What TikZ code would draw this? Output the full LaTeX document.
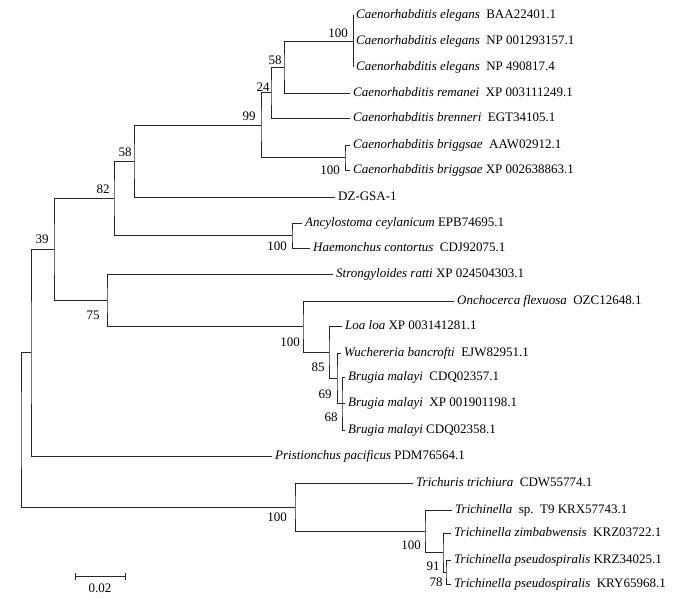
\documentclass[tikz,border=0pt]{standalone}
\usepackage{fontspec}
\setmainfont{Liberation Serif}
\usepackage{tikz}
\tikzstyle{leaf} = [anchor=west, inner sep=3pt, text height=9pt, text depth=2.5pt, font=\fontsize{13}{15}\selectfont]
\tikzstyle{boot} = [inner sep=0pt, font=\fontsize{13}{15}\selectfont]
\tikzstyle{branch} = [line width=0.75pt, black!85]

\begin{document}
\begin{tikzpicture}[x=1pt, y=-1pt]
\useasboundingbox (0,0) rectangle (688,602);
\node (ce1) [leaf] at (353,15) {\textit{Caenorhabditis elegans}\ \ BAA22401.1};
\node (ce2) [leaf] at (353,41) {\textit{Caenorhabditis elegans}\ \ NP 001293157.1};
\node (ce3) [leaf] at (353,67) {\textit{Caenorhabditis elegans}\ \ NP 490817.4};
\node (crem) [leaf] at (350,93) {\textit{Caenorhabditis remanei}\ \ XP 003111249.1};
\node (cbren) [leaf] at (350,118) {\textit{Caenorhabditis brenneri}\ \ EGT34105.1};
\node (cbr1) [leaf] at (350,145) {\textit{Caenorhabditis briggsae}\ \ AAW02912.1};
\node (cbr2) [leaf] at (350,170) {\textit{Caenorhabditis briggsae} XP 002638863.1};
\node (dz) [leaf] at (335,197) {DZ-GSA-1};
\node (anc) [leaf] at (302,223) {\textit{Ancylostoma ceylanicum} EPB74695.1};
\node (haem) [leaf] at (310,248) {\textit{Haemonchus contortus}\ \ CDJ92075.1};
\node (stro) [leaf] at (333,274) {\textit{Strongyloides ratti} XP 024504303.1};
\node (oncho) [leaf] at (454,301) {\textit{Onchocerca flexuosa}\ \ OZC12648.1};
\node (loa) [leaf] at (342,326) {\textit{Loa loa} XP 003141281.1};
\node (wuch) [leaf] at (341,353) {\textit{Wuchereria bancrofti}\ \ EJW82951.1};
\node (bma1) [leaf] at (345,377) {\textit{Brugia malayi}\ \ CDQ02357.1};
\node (bma2) [leaf] at (345,403) {\textit{Brugia malayi}\ \ XP 001901198.1};
\node (bma3) [leaf] at (345,430) {\textit{Brugia malayi} CDQ02358.1};
\node (prist) [leaf] at (272,456) {\textit{Pristionchus pacificus} PDM76564.1};
\node (trich) [leaf] at (413,483) {\textit{Trichuris trichiura}\ \ CDW55774.1};
\node (tsp) [leaf] at (452,510) {\textit{Trichinella}\ \ sp.\ \ T9 KRX57743.1};
\node (tzim) [leaf] at (451,533) {\textit{Trichinella zimbabwensis}\ \ KRZ03722.1};
\node (tps1) [leaf] at (451,560) {\textit{Trichinella pseudospiralis} KRZ34025.1};
\node (tps2) [leaf] at (451,584) {\textit{Trichinella pseudospiralis}\ \ KRY65968.1};

\coordinate (n58a) at (284,67);
\coordinate (n24) at (271,92.5);
\coordinate (nbr) at (345,157.5);
\coordinate (n99) at (261,125);
\coordinate (n58b) at (134,161);
\coordinate (nanc) at (292,235.5);
\coordinate (n82) at (114,198);
\coordinate (n68) at (342,403);
\coordinate (n69) at (337,378);
\coordinate (n85) at (329,352);
\coordinate (nfil) at (303,326.5);
\coordinate (n75) at (107,300);
\coordinate (n39) at (54,249);
\coordinate (npr) at (31,352.5);
\coordinate (n78) at (446,572);
\coordinate (n91) at (443,552.5);
\coordinate (ntn) at (425,531);
\coordinate (ntri) at (295,507);
\coordinate (root) at (21,430);

\draw [branch] (ce1.west) -- (ce3.west);
\draw [branch] (ce2.west) -| (n58a) |- (crem.west);
\draw [branch] (n58a) -| (n24) |- (cbren.west);
\draw [branch] (cbr1.west) -| (nbr) |- (cbr2.west);
\draw [branch] (n24) -| (n99) |- (nbr);
\draw [branch] (n99) -| (n58b) |- (dz.west);
\draw [branch] (anc.west) -| (nanc) |- (haem.west);
\draw [branch] (n58b) -| (n82) |- (nanc);
\draw [branch] (bma1.west) -| (n68) |- (bma3.west);
\draw [branch] (n68) -- (bma2.west);
\draw [branch] (wuch.west) -| (n69) |- (n68);
\draw [branch] (loa.west) -| (n85) |- (n69);
\draw [branch] (oncho.west) -| (nfil) |- (n85);
\draw [branch] (stro.west) -| (n75) |- (nfil);
\draw [branch] (n82) -| (n39) |- (n75);
\draw [branch] (n39) -| (npr) |- (prist.west);
\draw [branch] (tps1.west) -| (n78) |- (tps2.west);
\draw [branch] (tzim.west) -| (n91) |- (n78);
\draw [branch] (tsp.west) -| (ntn) |- (n91);
\draw [branch] (trich.west) -| (ntri) |- (ntn);
\draw [branch] (npr) -| (root) |- (ntri);

\node (bs1) [boot] at (338,33) {100};
\node (bs2) [boot] at (275,60) {58};
\node (bs3) [boot] at (263,87) {24};
\node (bs4) [boot] at (249,116) {99};
\node (bs5) [boot] at (330,170) {100};
\node (bs6) [boot] at (125,152) {58};
\node (bs7) [boot] at (103,189) {82};
\node (bs8) [boot] at (277,246) {100};
\node (bs9) [boot] at (42,239) {39};
\node (bs10) [boot] at (93,315) {75};
\node (bs11) [boot] at (290,342) {100};
\node (bs12) [boot] at (318,367) {85};
\node (bs13) [boot] at (325,394) {69};
\node (bs14) [boot] at (331,417) {68};
\node (bs15) [boot] at (277,517) {100};
\node (bs16) [boot] at (411,545) {100};
\node (bs17) [boot] at (433,566) {91};
\node (bs18) [boot] at (436,582) {78};

\coordinate (sbl) at (75,576);
\coordinate (sbr) at (125,576);
\draw [branch] (sbl) -- (sbr);
\draw [branch] ([yshift=-3.5pt]sbl) -- ([yshift=3.5pt]sbl);
\draw [branch] ([yshift=-3.5pt]sbr) -- ([yshift=3.5pt]sbr);
\node (scale) [boot] at (100,588) {0.02};
\end{tikzpicture}
\end{document}
